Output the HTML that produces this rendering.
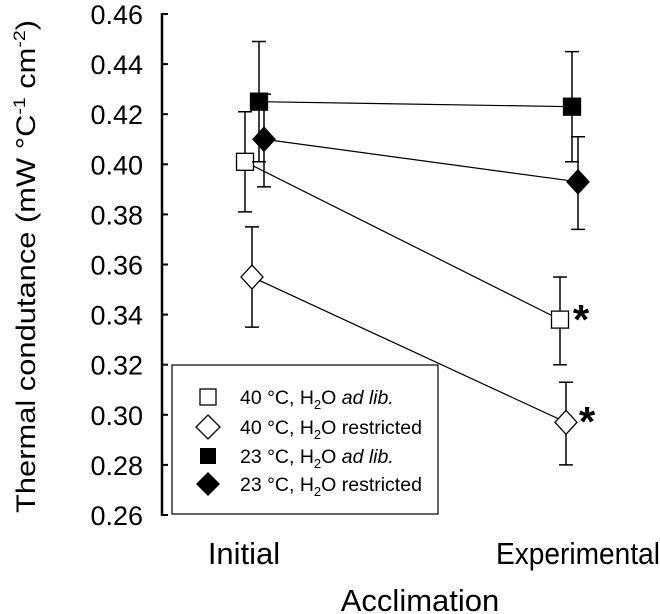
<!DOCTYPE html>
<html><head><meta charset="utf-8"><style>
body{margin:0;background:#fff}
svg{display:block;font-family:"Liberation Sans",Arial,sans-serif}
</style></head><body>
<svg id="c" width="660" height="614" viewBox="0 0 660 614">
<g id="axes"></g><g id="series"></g>
<g>
<rect x="172" y="365" width="266" height="149" fill="#fff" stroke="#000" stroke-width="1.2"/>
<g font-size="19.5">
<rect x="200" y="389" width="16" height="16" fill="#fff" stroke="#000" stroke-width="1.3"/>
<text x="240" y="404">40 °C, H<tspan font-size="13" dy="5">2</tspan><tspan dy="-5">O </tspan><tspan font-style="italic">ad lib.</tspan></text>
<path d="M208 415 L220 427 L208 439 L196 427 Z" fill="#fff" stroke="#000" stroke-width="1.3"/>
<text x="240" y="434">40 °C, H<tspan font-size="13" dy="5">2</tspan><tspan dy="-5">O restricted</tspan></text>
<rect x="200" y="448" width="16" height="16" fill="#000"/>
<text x="240" y="463">23 °C, H<tspan font-size="13" dy="5">2</tspan><tspan dy="-5">O </tspan><tspan font-style="italic">ad lib.</tspan></text>
<path d="M208 472 L220 484 L208 496 L196 484 Z" fill="#000"/>
<text x="240" y="491">23 °C, H<tspan font-size="13" dy="5">2</tspan><tspan dy="-5">O restricted</tspan></text>
</g></g>
<text x="244" y="564" font-size="31" text-anchor="middle">Initial</text>
<text x="496" y="564" font-size="31" textLength="164" lengthAdjust="spacingAndGlyphs">Experimental</text>
<text x="420" y="611" font-size="31" text-anchor="middle">Acclimation</text>
<text transform="translate(35,513) rotate(-90)" font-size="27" textLength="493" lengthAdjust="spacingAndGlyphs">Thermal condutance (mW °C<tspan font-size="17" dy="-10">-1</tspan><tspan dy="10"> cm</tspan><tspan font-size="17" dy="-10">-2</tspan><tspan dy="10">)</tspan></text>
<text x="581" y="334" font-size="42" font-weight="bold" text-anchor="middle">*</text>
<text x="587" y="436" font-size="42" font-weight="bold" text-anchor="middle">*</text>
</svg>
<script>
const yTicks=[0.26,0.28,0.30,0.32,0.34,0.36,0.38,0.40,0.42,0.44,0.46];
const yTickLabels=["0.26","0.28","0.30","0.32","0.34","0.36","0.38","0.40","0.42","0.44","0.46"];
const categories=["Initial","Experimental"];
const s40Adlib=[0.401,0.338], s40AdlibHi=[0.421,0.355], s40AdlibLo=[0.381,0.320];
const s40Res=[0.355,0.297], s40ResHi=[0.375,0.313], s40ResLo=[0.335,0.280];
const s23Adlib=[0.425,0.423], s23AdlibHi=[0.449,0.445], s23AdlibLo=[0.401,0.401];
const s23Res=[0.410,0.393], s23ResHi=[0.428,0.411], s23ResLo=[0.391,0.374];
const NS="http://www.w3.org/2000/svg";
function y(v){return 14+(0.46-v)/0.20*501;}
function x(i,off){return [252,566][i]+off;}
function mk(tag,attrs,parent){const e=document.createElementNS(NS,tag);for(const k in attrs)e.setAttribute(k,attrs[k]);parent.appendChild(e);return e;}
const ax=document.getElementById('axes'),sg=document.getElementById('series');
const yl=mk('line',{x1:162,x2:162,y1:13,y2:516,stroke:'#000','stroke-width':2.5},ax);


yTicks.forEach((t,i)=>{
 const tk=mk('line',{x1:162,x2:168,y1:y(t),y2:y(t),stroke:'#000','stroke-width':2},ax);
 
 
 const tl=mk('text',{x:143,y:y(t)+10,'font-size':27,'text-anchor':'end'},ax);
 tl.textContent=yTickLabels[i];
 
 
});
const series=[
 {v:s40Adlib,hi:s40AdlibHi,lo:s40AdlibLo,off:[-7,-6],shape:'sq',fill:'#fff',name:'series-40-adlib'},
 {v:s40Res,hi:s40ResHi,lo:s40ResLo,off:[0,0],shape:'di',fill:'#fff',name:'series-40-restricted'},
 {v:s23Adlib,hi:s23AdlibHi,lo:s23AdlibLo,off:[7,6],shape:'sq',fill:'#000',name:'series-23-adlib'},
 {v:s23Res,hi:s23ResHi,lo:s23ResLo,off:[12,12],shape:'di',fill:'#000',name:'series-23-restricted'}];
series.forEach(s=>{
 const g=mk('g',{},sg);
 
 
 const ln=mk('line',{x1:x(0,s.off[0]),y1:y(s.v[0]),x2:x(1,s.off[1]),y2:y(s.v[1]),stroke:'#000','stroke-width':1.2},g);
 
 
 s.v.forEach((v,i)=>{
  const cx=x(i,s.off[i]);
  const eb=mk('path',{d:`M${cx} ${y(s.hi[i])}V${y(s.lo[i])}M${cx-7} ${y(s.hi[i])}H${cx+7}M${cx-7} ${y(s.lo[i])}H${cx+7}`,stroke:'#000','stroke-width':1.5,fill:'none'},g);
  
  
 });
 s.v.forEach((v,i)=>{
  const cx=x(i,s.off[i]),cy=y(v);let m;
  if(s.shape==='sq') m=mk('rect',{x:cx-8.5,y:cy-8.5,width:17,height:17,fill:s.fill,stroke:'#000','stroke-width':1.3},g);
  else m=mk('path',{d:`M${cx} ${cy-12}L${cx+11} ${cy}L${cx} ${cy+12}L${cx-11} ${cy}Z`,fill:s.fill,stroke:'#000','stroke-width':1.3},g);
  
  
 });
});
</script>
</body></html>
